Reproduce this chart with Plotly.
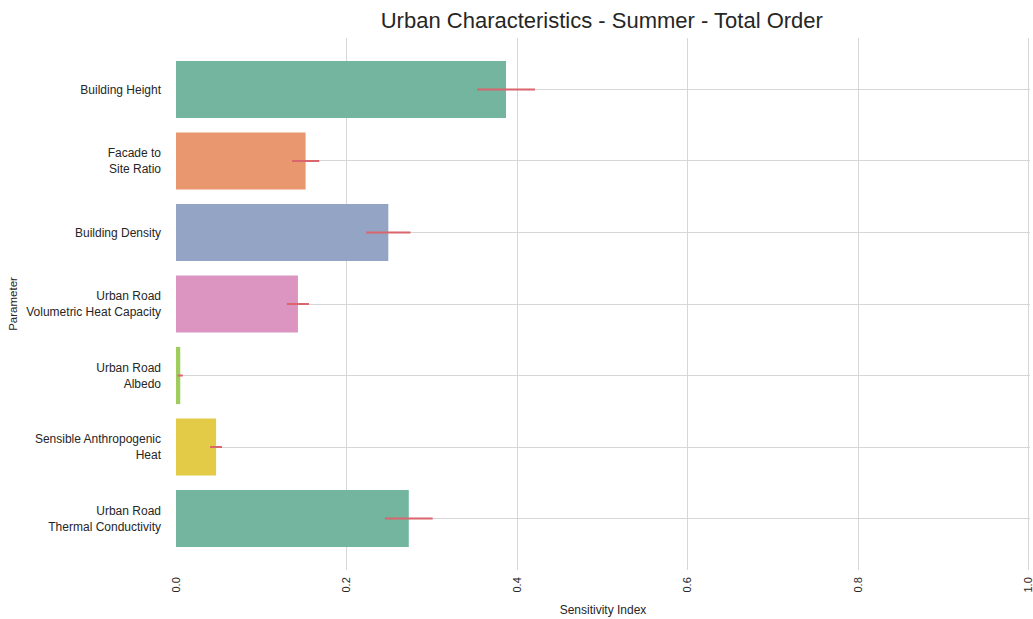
import plotly.graph_objects as go

categories = ["Building Height", "Facade to<br>Site Ratio", "Building Density",
              "Urban Road<br>Volumetric Heat Capacity", "Urban Road<br>Albedo",
              "Sensible Anthropogenic<br>Heat", "Urban Road<br>Thermal Conductivity"]
values = [0.387, 0.152, 0.249, 0.143, 0.005, 0.047, 0.273]
errors = [0.034, 0.016, 0.026, 0.013, 0.003, 0.007, 0.028]
colors = ["#73b59f", "#e8976f", "#94a4c4", "#db95c0", "#9fcc5e", "#e3cb47", "#73b59f"]
x_ticks = [0.0, 0.2, 0.4, 0.6, 0.8, 1.0]

fig = go.Figure(go.Bar(
    y=categories, x=values, orientation="h",
    marker=dict(color=colors, line=dict(width=0)),
    width=0.8,
    error_x=dict(type="data", array=errors, color="#d9656d", thickness=2, width=0),
))

fig.update_layout(
    width=1033, height=619,
    margin=dict(l=176, r=3, t=38, b=49, autoexpand=False),
    paper_bgcolor="white", plot_bgcolor="white",
    font=dict(family="Liberation Sans, Arial, sans-serif", size=12, color="#262626"),
    title=dict(text="Urban Characteristics - Summer - Total Order", x=0.5826, xanchor="center",
               y=0.967, yanchor="middle", font=dict(size=22, color="#262626")),
    showlegend=False,
    bargap=0.2,
)
fig.update_xaxes(range=[0, 1.0015], tickvals=x_ticks, tickformat=".1f", tickangle=-90,
                 showgrid=True, gridcolor="#d6d6d6", gridwidth=1, zeroline=False,
                 showline=False, ticklabelstandoff=4, tickfont=dict(size=11),
                 ticklabeloverflow="allow", automargin=False,
                 title=dict(text="Sensitivity Index", standoff=14, font=dict(size=12)))
fig.update_yaxes(autorange=False, range=[6.72, -0.72], showgrid=True, gridcolor="#d6d6d6",
                 gridwidth=1, zeroline=False, showline=False, ticklabelstandoff=14,
                 automargin=False,
                 title=dict(text="Parameter", standoff=6, font=dict(size=11.5)))

fig.write_html("out.html")
